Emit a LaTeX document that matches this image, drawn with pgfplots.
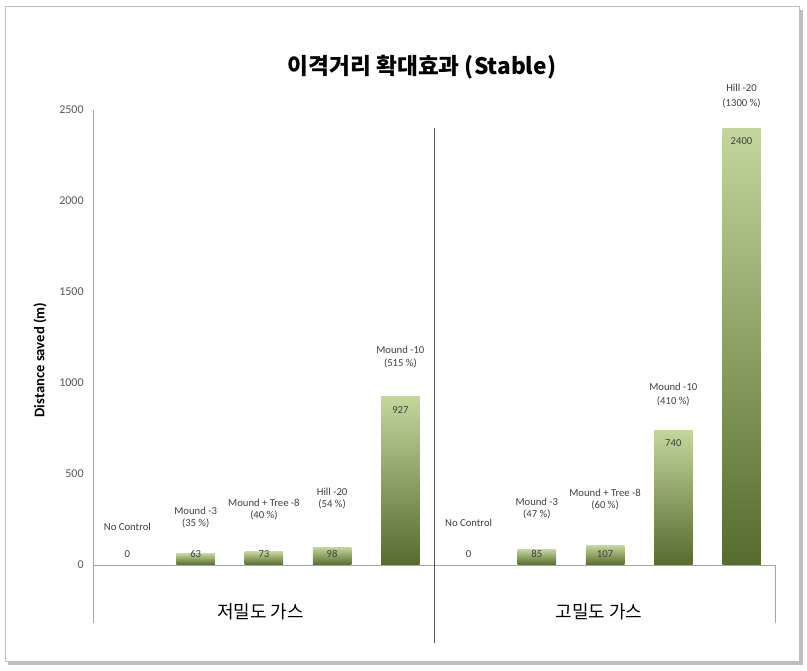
\documentclass[border=0pt]{standalone}
\usepackage{pgfplots}
\pgfplotsset{compat=1.18}
\usepackage{fontspec}
\setmainfont{Carlito}
\newfontfamily\kr{Noto Sans CJK KR}
\definecolor{barTop}{HTML}{C3D69B}
\definecolor{barMid}{HTML}{92B052}
\definecolor{barBot}{HTML}{566B2E}
\definecolor{axisgray}{HTML}{A6A6A6}
\definecolor{sepgray}{HTML}{595959}
\definecolor{txt}{HTML}{404040}
\definecolor{tickgray}{HTML}{595959}
\definecolor{framegray}{HTML}{BFBFBF}
\pgfplotsset{gbar/.style={ybar, bar shift=0pt, bar width=0.563, draw=none,
  top color=barTop, middle color=barMid, bottom color=barBot}}
\begin{document}
\begin{tikzpicture}
\path[use as bounding box] (-70pt,-35.85pt) rectangle (535.3pt,467.4pt);
\fill[black!25] (-63.85pt,-31.35pt) rectangle (532.3pt,459.9pt);
\filldraw[fill=white, draw=framegray] (-65.85pt,-28.35pt) rectangle (529.3pt,462.9pt);
\begin{axis}[
  at={(0pt,0pt)}, anchor=south west,
  scale only axis, width=511.8pt, height=384.8pt,
  xmin=0, xmax=10, ymin=-320, ymax=2500,
  enlargelimits=false, clip=false,
  axis x line=none, axis y line*=left,
  y axis line style={draw=axisgray},
  xtick=\empty,
  ytick={0,500,1000,1500,2000,2500},
  major tick length=0pt,
  /pgf/number format/assume math mode=true,
  /pgf/number format/1000 sep={},
  yticklabel style={font=\fontsize{9}{10}\selectfont, text=tickgray, xshift=-3.75pt},
  ylabel={Distance saved (m)},
  ylabel style={at={(axis description cs:-0.078,0.513)}, anchor=center, font=\bfseries\fontsize{11}{13}\selectfont, text=black},
  title={\kr\bfseries 이격거리 확대효과 (Stable)},
  title style={at={(axis description cs:0.4816,1.0686)}, anchor=center, yshift=0pt, font=\fontsize{17}{20}\selectfont},
  nodes near coords style={anchor=center, font=\fontsize{8}{9.6}\selectfont, text=txt},
]
% bars (one plot per bar so each bar gets its own gradient)
\addplot[gbar] coordinates {(1.5,63)};
\addplot[gbar] coordinates {(2.5,73)};
\addplot[gbar] coordinates {(3.5,98)};
\addplot[gbar] coordinates {(4.5,927)};
\addplot[gbar] coordinates {(6.5,85)};
\addplot[gbar] coordinates {(7.5,107)};
\addplot[gbar] coordinates {(8.5,740)};
\addplot[gbar] coordinates {(9.5,2400)};
% axis line at zero and dividers
\draw[axisgray] (axis cs:0,0) -- (axis cs:10,0) -- (axis cs:10,-320);
\draw[sepgray, line width=0.8pt] (axis cs:5,2401) -- (axis cs:5,-429);
% value labels
\addplot[draw=none, mark=none, nodes near coords, point meta=explicit symbolic]
  coordinates {(0.5,59) [0] (1.5,59) [63] (2.5,59) [73] (3.5,59) [98] (4.5,852) [927]
               (5.5,59) [0] (6.5,59) [85] (7.5,59) [107] (8.5,672) [740] (9.5,2331) [2400]};
% annotation line 1
\addplot[draw=none, mark=none, nodes near coords, point meta=explicit symbolic]
  coordinates {(0.5,207) [No Control] (1.5,298) [Mound -3] (2.5,344) [Mound + Tree -8]
               (3.5,403) [Hill -20] (4.5,1181) [Mound -10] (5.5,229) [No Control]
               (6.5,348) [Mound -3] (7.5,397) [Mound + Tree -8] (8.5,980) [Mound -10]
               (9.5,2625) [Hill -20]};
% annotation line 2
\addplot[draw=none, mark=none, nodes near coords, point meta=explicit symbolic]
  coordinates {(1.5,229) [{(35 \%)}] (2.5,275) [{(40 \%)}] (3.5,334) [{(54 \%)}]
               (4.5,1108) [{(515 \%)}] (6.5,279) [{(47 \%)}] (7.5,326) [{(60 \%)}]
               (8.5,897) [{(410 \%)}] (9.5,2540) [{(1300 \%)}]};
% group labels
\addplot[draw=none, mark=none, nodes near coords, point meta=explicit symbolic,
  nodes near coords style={anchor=center, font=\kr\fontsize{13.5}{16}\selectfont, text=black}]
  coordinates {(2.45,-257) [저밀도 가스] (7.41,-259) [고밀도 가스]};
\end{axis}
\end{tikzpicture}
\end{document}
